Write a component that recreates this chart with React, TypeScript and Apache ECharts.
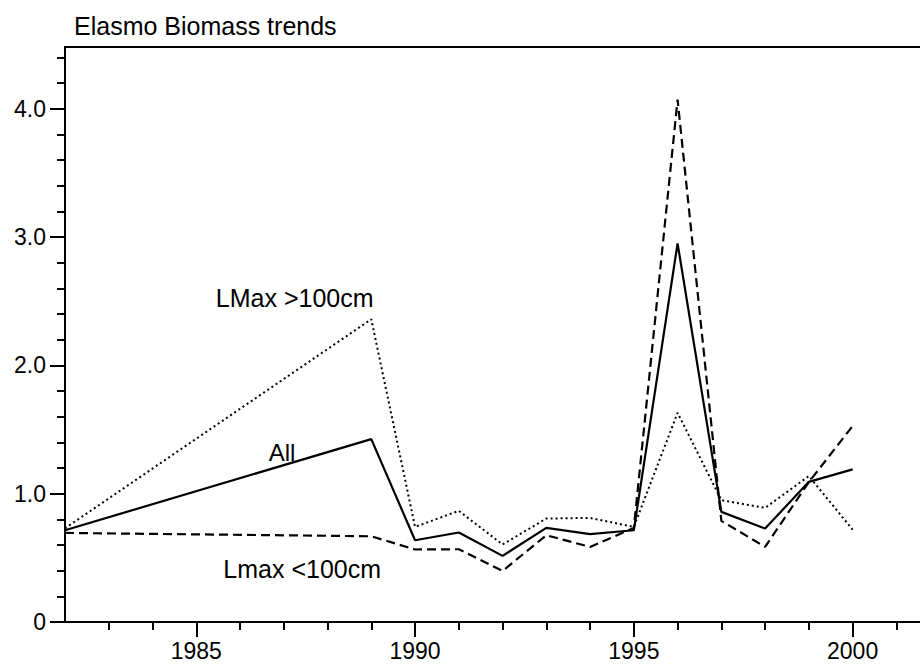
import React, { useEffect, useRef } from "react";
import * as echarts from "echarts";

const years = [1982, 1989, 1990, 1991, 1992, 1993, 1994, 1995, 1996, 1997, 1998, 1999, 2000];
const allSeries = [0.715, 1.425, 0.637, 0.697, 0.515, 0.733, 0.684, 0.715, 2.95, 0.858, 0.728, 1.092, 1.189];
const smallSeries = [0.694, 0.668, 0.565, 0.567, 0.398, 0.676, 0.585, 0.733, 4.07, 0.788, 0.585, 1.09, 1.527];
const largeSeries = [0.73, 2.359, 0.741, 0.866, 0.604, 0.806, 0.811, 0.741, 1.63, 0.949, 0.889, 1.137, 0.72];

const xMajorTicks = [1985, 1990, 1995, 2000];
const xMinorTicks = [1983, 1984, 1986, 1987, 1988, 1989, 1991, 1992, 1993, 1994, 1996, 1997, 1998, 1999, 2001];
const yMajorTicks = [0, 1, 2, 3, 4];
const yMinorTicks = [0.2, 0.4, 0.6, 0.8, 1.2, 1.4, 1.6, 1.8, 2.2, 2.4, 2.6, 2.8, 3.2, 3.4, 3.6, 3.8, 4.2, 4.4];

const title = "Elasmo Biomass trends";
const labelLarge = "LMax >100cm";
const labelAll = "All";
const labelSmall = "Lmax <100cm";

const FONT = "'Liberation Sans', Arial, sans-serif";

export default function App() {
  const ref = useRef<HTMLDivElement>(null);
  useEffect(() => {
    if (!ref.current) return;
    const chart = echarts.init(ref.current, null, { renderer: "svg" });
    const pair = (arr: number[]) => years.map((y, i) => [y, arr[i]]);
    const black = "#000";
    const xMin = 1982;
    const xMax = 2001.54;
    const yMax = 4.48;
    chart.setOption({
      animation: false,
      backgroundColor: "#fff",
      textStyle: { fontFamily: FONT },
      grid: { left: 65, right: 0, top: 47, bottom: 44, containLabel: false },
      xAxis: [
        {
          type: "value", min: xMin, max: xMax, position: "bottom",
          axisLine: { show: true, onZero: false, lineStyle: { color: black, width: 2 } },
          axisTick: { show: true, customValues: xMajorTicks, length: 15, lineStyle: { color: black, width: 2 } },
          axisLabel: { show: true, customValues: xMajorTicks, fontSize: 23, color: black, margin: 17, fontFamily: FONT, formatter: (v: number) => String(v) },
          splitLine: { show: false },
        },
        {
          type: "value", min: xMin, max: xMax, position: "bottom",
          axisLine: { show: false, onZero: false },
          axisTick: { show: true, customValues: xMinorTicks, length: 8, lineStyle: { color: black, width: 2 } },
          axisLabel: { show: false },
          splitLine: { show: false },
        },
        {
          type: "value", min: xMin, max: xMax, position: "top",
          axisLine: { show: true, onZero: false, lineStyle: { color: black, width: 2 } },
          axisTick: { show: false },
          axisLabel: { show: false },
          splitLine: { show: false },
        },
      ],
      yAxis: [
        {
          type: "value", min: 0, max: yMax, position: "left",
          axisLine: { show: true, onZero: false, lineStyle: { color: black, width: 2 } },
          axisTick: { show: true, customValues: yMajorTicks, length: 15, lineStyle: { color: black, width: 2 } },
          axisLabel: { show: true, customValues: yMajorTicks, fontSize: 23, color: black, margin: 19, fontFamily: FONT, formatter: (v: number) => (v === 0 ? "0" : v.toFixed(1)) },
          splitLine: { show: false },
        },
        {
          type: "value", min: 0, max: yMax, position: "left",
          axisLine: { show: false, onZero: false },
          axisTick: { show: true, customValues: yMinorTicks, length: 8, lineStyle: { color: black, width: 2 } },
          axisLabel: { show: false },
          splitLine: { show: false },
        },
      ],
      series: [
        {
          name: labelAll, type: "line", xAxisIndex: 0, yAxisIndex: 0, data: pair(allSeries),
          showSymbol: false, symbol: "none", lineStyle: { color: black, width: 2.2, type: "solid" },
        },
        {
          name: labelSmall, type: "line", xAxisIndex: 0, yAxisIndex: 0, data: pair(smallSeries),
          showSymbol: false, symbol: "none", lineStyle: { color: black, width: 2.2, type: [9, 5] },
        },
        {
          name: labelLarge, type: "line", xAxisIndex: 0, yAxisIndex: 0, data: pair(largeSeries),
          showSymbol: false, symbol: "none", lineStyle: { color: black, width: 2, type: [2, 3] },
        },
      ],
      graphic: [
        { type: "text", x: 74, y: 26.3, style: { text: title, fontSize: 25, fontFamily: FONT, fill: black, textAlign: "left", textVerticalAlign: "middle" } },
        { type: "text", x: 294.7, y: 297.5, style: { text: labelLarge, fontSize: 25, fontFamily: FONT, fill: black, textAlign: "center", textVerticalAlign: "middle" } },
        { type: "text", x: 282, y: 452, style: { text: labelAll, fontSize: 24, fontFamily: FONT, fill: black, textAlign: "center", textVerticalAlign: "middle" } },
        { type: "text", x: 302.2, y: 568.5, style: { text: labelSmall, fontSize: 25, fontFamily: FONT, fill: black, textAlign: "center", textVerticalAlign: "middle" } },
      ],
    });
    return () => chart.dispose();
  }, []);
  return <div ref={ref} style={{ position: "fixed", left: 0, top: 0, width: 920, height: 666, background: "#fff" }} />;
}
